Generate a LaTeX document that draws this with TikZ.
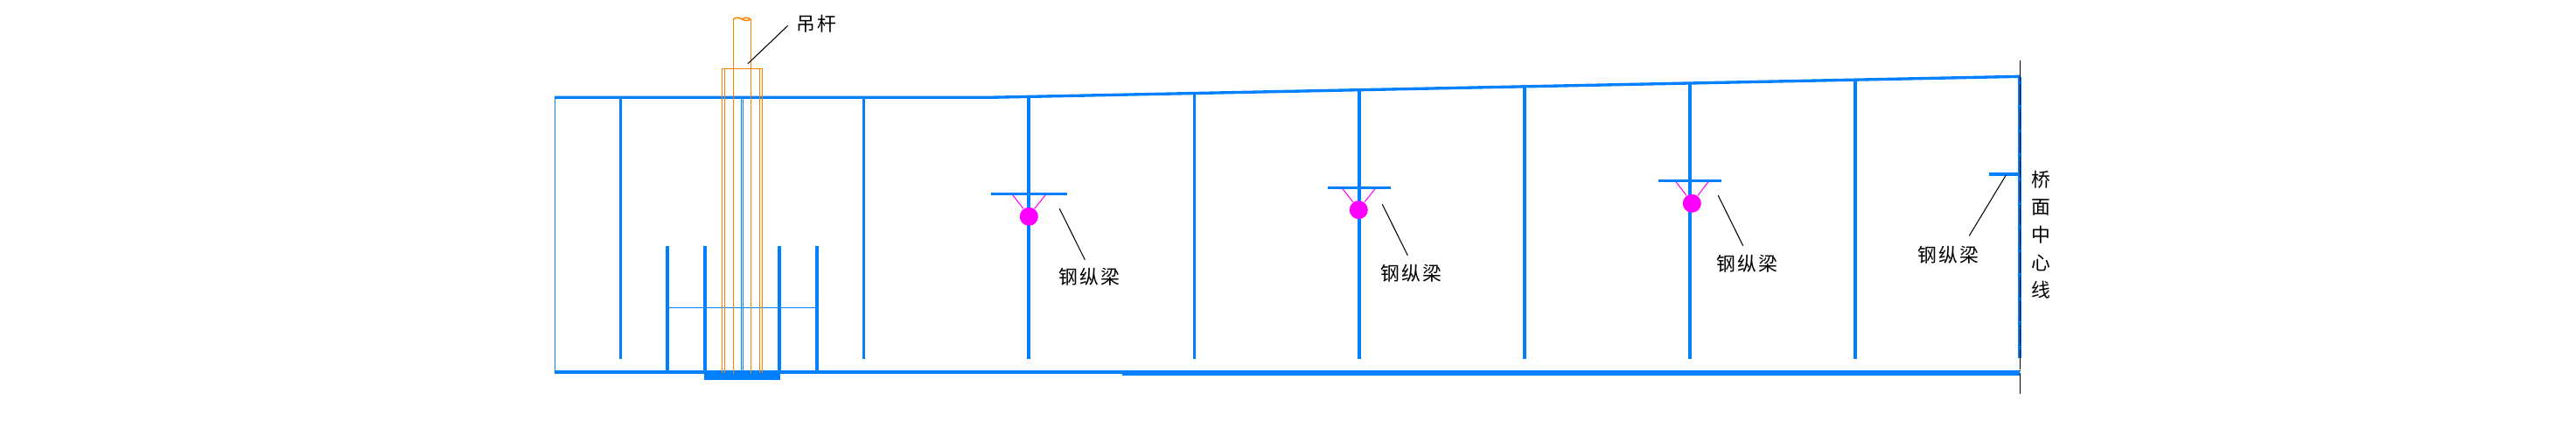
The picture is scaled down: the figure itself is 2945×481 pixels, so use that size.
\documentclass[tikz,border=0pt]{standalone}
\usepackage{fontspec}
\usepackage{xcolor}
\usetikzlibrary{positioning}
\newfontfamily\cjk[LetterSpace=10]{Noto Sans CJK SC}
\definecolor{beamblue}{HTML}{0080FF}
\definecolor{rodorange}{HTML}{FF8000}
\definecolor{pinpink}{HTML}{FF00FF}

\begin{document}
\begin{tikzpicture}[
    x=0.01cm, y=-0.01cm,
    web/.style={draw=beamblue, line width=1.15pt},
    deck/.style={draw=beamblue, line width=0.95pt},
    hair/.style={draw=beamblue, line width=0.42pt},
    rod/.style={draw=rodorange, line width=0.42pt},
    leader/.style={draw=black, line width=0.3pt},
    pin/.style={circle, fill=pinpink, minimum size=0.21cm, inner sep=0pt},
    brace/.style={draw=pinpink, line width=0.3pt},
    tag/.style={font=\cjk\fontsize{6.2pt}{9pt}\selectfont, inner sep=0pt, align=center}
]
    \useasboundingbox (0,0) rectangle (2945,481);

    % Deck and soffit
    \draw[deck] (634,111.3) -- (1130,111.3) -- (2310,87.3);
    \draw[web] (634,425) -- (1283,425);
    \draw[draw=beamblue, line width=1.7pt] (1283,426) -- (2309,426);
    \fill[beamblue] (805,423) rectangle (892,434);
    \draw[hair] (634.3,111.3) -- (634.3,425);

    % Webs
    \draw[deck] (709.3,111) -- (709.3,410);
    \draw[deck] (987.3,111) -- (987.3,410);
    \draw[web] (1176,110) -- (1176,410);
    \draw[deck] (1365.3,106) -- (1365.3,410);
    \draw[web] (1554,102) -- (1554,410);
    \draw[web] (1743,98) -- (1743,410);
    \draw[web] (1931.7,94) -- (1931.7,410);
    \draw[web] (2121,91) -- (2121,410);
    \draw[web] (2309,88) -- (2309,409);

    % Hanger anchorage
    \draw[web] (763,281) -- (763,425);
    \draw[web] (806,281) -- (806,425);
    \draw[web] (891,281) -- (891,425);
    \draw[web] (934,281) -- (934,425);
    \draw[hair] (763,351.3) -- (934,351.3);
    \draw[hair] (847.7,111) -- (847.7,423);
    \draw[hair] (849.3,111) -- (849.3,423);

    % Hanger
    \draw[rod] (838.3,426.7) -- (838.3,22);
    \draw[rod] (858.3,426.7) -- (858.3,22);
    \draw[rod] (825.3,425.7) -- (825.3,78.3) -- (871.3,78.3) -- (871.3,425.7);
    \draw[rod] (828.3,425.7) -- (828.3,78.3);
    \draw[rod] (868.3,425.7) -- (868.3,78.3);
    \draw[rod] (838.3,22) .. controls (842,19) and (845,20) .. (848.3,22) .. controls (851,23.5) and (855,24.5) .. (858.3,22);
    \draw[rod] (848.3,22) .. controls (851,19.5) and (855,19.5) .. (858.3,22);

    % Stringers
    \draw[deck] (1133,221.3) -- (1220,221.3);
    \draw[brace] (1157.7,222.7) -- (1170,238.3);
    \draw[brace] (1195.3,222.7) -- (1182.7,238.3);
    \node[pin] (pinA) at (1176.3,247.3) {};

    \draw[deck] (1518,214.3) -- (1590,214.3);
    \draw[brace] (1535,215.7) -- (1546.7,230.7);
    \draw[brace] (1572,215.7) -- (1560,230.7);
    \node[pin] (pinB) at (1553.3,239.7) {};

    \draw[deck] (1896,206.3) -- (1968,206.3);
    \draw[brace] (1916,207.7) -- (1928,223.3);
    \draw[brace] (1953,207.7) -- (1941,223.3);
    \node[pin] (pinC) at (1934.3,232.3) {};

    \draw[web] (2274,199) -- (2309,199);

    % Centre line
    \draw[draw=black, line width=0.3pt, dash pattern=on 6.8pt off 0.4pt on 0.2pt off 0.4pt] (2309.3,69) -- (2309.3,450);

    % Labels
    \node[tag] (hanger) at (933.5,27.7) {吊杆};
    \node[tag] (stringerA) at (1245.5,316.7) {钢纵梁};
    \node[tag] (stringerB) at (1613,312) {钢纵梁};
    \node[tag] (stringerC) at (1997.2,301.7) {钢纵梁};
    \node[tag] (stringerD) at (2227,290.8) {钢纵梁};
    \node[tag] (axis) at (2333.3,268.3) {桥\\面\\中\\心\\线};

    % Leaders
    \coordinate (hangerA) at (900.7,29.3);
    \coordinate (hangerB) at (855,72.7);
    \draw[leader] (hangerA) -- (hangerB);
    \coordinate (leadA1) at (1240.3,296.7);
    \coordinate (leadA2) at (1211.3,238.3);
    \draw[leader] (leadA1) -- (leadA2);
    \coordinate (leadB1) at (1609.3,291.7);
    \coordinate (leadB2) at (1580.3,233.3);
    \draw[leader] (leadB1) -- (leadB2);
    \coordinate (leadC1) at (1992.7,280.7);
    \coordinate (leadC2) at (1964.3,223.3);
    \draw[leader] (leadC1) -- (leadC2);
    \coordinate (leadD1) at (2251.3,269.3);
    \coordinate (leadD2) at (2293.3,200);
    \draw[leader] (leadD1) -- (leadD2);
\end{tikzpicture}
\end{document}
